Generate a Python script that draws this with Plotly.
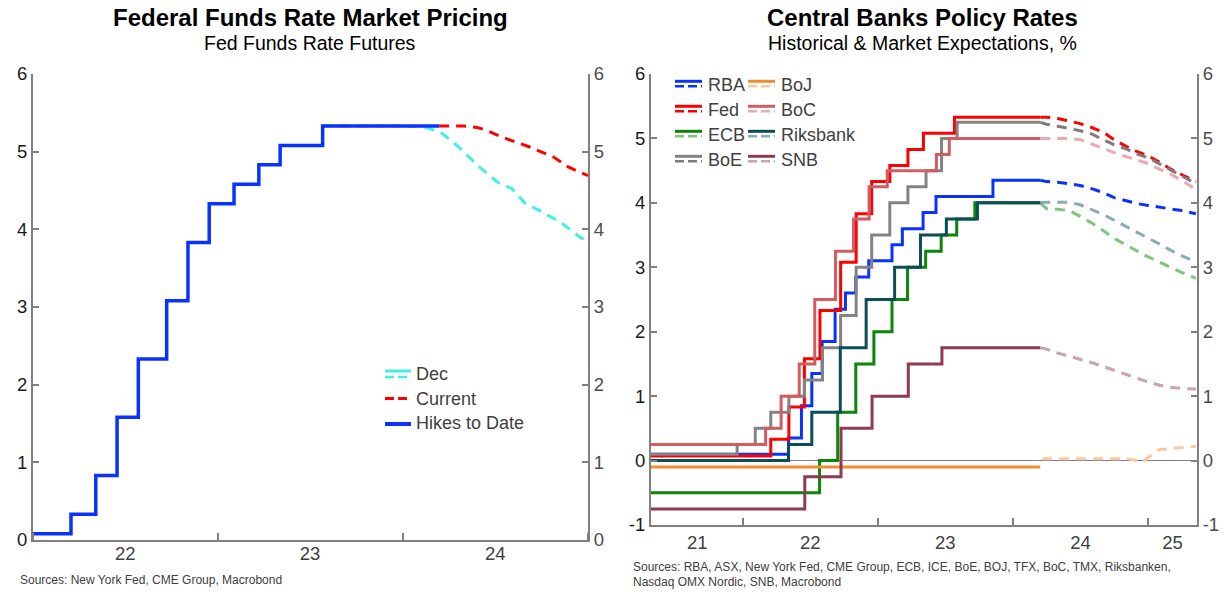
import plotly.graph_objects as go

W, H = 1226, 592
FONT = "Arial, Liberation Sans, sans-serif"

# ---------------- Left chart data ----------------
hikes_dates = ["2022-01-01", "2022-03-17", "2022-05-05", "2022-06-16", "2022-07-28", "2022-09-22",
               "2022-11-03", "2022-12-15", "2023-02-02", "2023-03-23", "2023-05-04", "2023-07-27",
               "2024-03-13"]
hikes_values = [0.08, 0.33, 0.83, 1.58, 2.33, 3.08, 3.83, 4.33, 4.58, 4.83, 5.08, 5.33, 5.33]

dec_dates = ["2023-07-27", "2024-01-01", "2024-02-06", "2024-02-22", "2024-03-20", "2024-04-19",
             "2024-06-01", "2024-07-10", "2024-08-03", "2024-08-29", "2024-10-01", "2024-11-10",
             "2024-12-16", "2025-01-01"]
dec_values = [5.33, 5.33, 5.32, 5.30, 5.23, 5.07, 4.80, 4.59, 4.53, 4.34, 4.23, 4.08, 3.90, 3.84]

current_dates = ["2024-03-13", "2024-05-01", "2024-05-27", "2024-06-13", "2024-07-18", "2024-09-08",
                 "2024-10-25", "2024-11-24", "2025-01-01"]
current_values = [5.33, 5.33, 5.31, 5.28, 5.18, 5.06, 4.93, 4.80, 4.69]

left_tick_pos = ["2022-07-02", "2023-07-02", "2024-07-02"]
left_tick_text = ["22", "23", "24"]
left_year_marks = ["2022-01-01", "2023-01-01", "2024-01-01", "2025-01-01"]
left_y_vals = [0, 1, 2, 3, 4, 5, 6]
left_y_text = ["0", "1", "2", "3", "4", "5", "6"]

# ---------------- Right chart data ----------------
rba_dates = ["2021-04-01", "2022-05-04", "2022-06-08", "2022-07-06", "2022-08-03", "2022-09-07",
             "2022-10-05", "2022-11-02", "2022-12-07", "2023-02-08", "2023-03-08", "2023-05-03",
             "2023-06-07", "2023-11-08", "2024-03-15"]
rba_values = [0.10, 0.35, 0.85, 1.35, 1.85, 2.35, 2.60, 2.85, 3.10, 3.35, 3.60, 3.85, 4.10, 4.35, 4.35]

fed_dates = ["2021-04-01", "2022-03-17", "2022-05-05", "2022-06-16", "2022-07-28", "2022-09-22",
             "2022-11-03", "2022-12-15", "2023-02-02", "2023-03-23", "2023-05-04", "2023-07-27",
             "2024-03-15"]
fed_values = [0.07, 0.33, 0.83, 1.58, 2.33, 3.08, 3.83, 4.33, 4.58, 4.83, 5.08, 5.33, 5.33]

ecb_dates = ["2021-04-01", "2022-07-27", "2022-09-14", "2022-11-02", "2022-12-21", "2023-02-08",
             "2023-03-22", "2023-05-10", "2023-06-21", "2023-08-02", "2023-09-20", "2024-03-15"]
ecb_values = [-0.50, 0.00, 0.75, 1.50, 2.00, 2.50, 3.00, 3.25, 3.50, 3.75, 4.00, 4.00]

boe_dates = ["2021-04-01", "2021-12-16", "2022-02-03", "2022-03-17", "2022-05-05", "2022-06-16",
             "2022-08-04", "2022-09-22", "2022-11-03", "2022-12-15", "2023-02-02", "2023-03-23",
             "2023-05-11", "2023-06-22", "2023-08-03", "2024-03-15"]
boe_values = [0.10, 0.25, 0.50, 0.75, 1.00, 1.25, 1.75, 2.25, 3.00, 3.50, 4.00, 4.25, 4.50, 5.00,
              5.25, 5.25]

boj_dates = ["2021-04-01", "2024-03-15"]
boj_values = [-0.10, -0.10]

boc_dates = ["2021-04-01", "2022-03-03", "2022-04-14", "2022-06-02", "2022-07-14", "2022-09-08",
             "2022-10-27", "2022-12-08", "2023-01-26", "2023-06-08", "2023-07-13", "2024-03-15"]
boc_values = [0.25, 0.50, 1.00, 1.50, 2.50, 3.25, 3.75, 4.25, 4.50, 4.75, 5.00, 5.00]

riks_dates = ["2021-04-01", "2022-05-04", "2022-07-06", "2022-09-21", "2022-11-30", "2023-02-15",
              "2023-04-26", "2023-07-05", "2023-09-27", "2024-03-15"]
riks_values = [0.00, 0.25, 0.75, 1.75, 2.50, 3.00, 3.50, 3.75, 4.00, 4.00]

snb_dates = ["2021-04-01", "2022-06-17", "2022-09-23", "2022-12-16", "2023-03-24", "2023-06-23",
             "2024-03-15"]
snb_values = [-0.75, -0.25, 0.50, 1.00, 1.50, 1.75, 1.75]

# market expectations (dashed)
fc_dates = ["2024-03-15", "2024-04-01", "2024-05-01", "2024-06-01", "2024-07-01", "2024-08-01",
            "2024-09-01", "2024-10-01", "2024-11-01", "2024-12-01", "2025-01-01", "2025-02-01",
            "2025-03-01", "2025-04-01", "2025-05-10"]
rba_fc = [4.35, 4.33, 4.32, 4.29, 4.27, 4.22, 4.16, 4.08, 4.03, 3.99, 3.96, 3.93, 3.91, 3.88, 3.83]
fed_fc = [5.33, 5.33, 5.31, 5.27, 5.23, 5.17, 5.10, 4.98, 4.88, 4.80, 4.73, 4.63, 4.53, 4.44, 4.33]
ecb_fc = [4.00, 3.91, 3.90, 3.88, 3.79, 3.69, 3.57, 3.45, 3.35, 3.25, 3.16, 3.08, 3.00, 2.92, 2.83]
boe_fc = [5.25, 5.22, 5.19, 5.16, 5.12, 5.07, 4.98, 4.90, 4.84, 4.76, 4.70, 4.60, 4.52, 4.42, 4.30]
boc_fc = [5.00, 5.00, 5.00, 5.00, 4.98, 4.91, 4.84, 4.78, 4.72, 4.66, 4.61, 4.52, 4.45, 4.35, 4.21]
riks_fc = [4.00, 4.01, 4.01, 4.01, 3.97, 3.90, 3.82, 3.73, 3.64, 3.55, 3.46, 3.36, 3.27, 3.18, 3.08]
snb_fc = [1.75, 1.73, 1.67, 1.62, 1.58, 1.52, 1.46, 1.40, 1.35, 1.28, 1.22, 1.17, 1.14, 1.12, 1.11]
boj_fc_dates = ["2024-03-20", "2024-11-05", "2024-12-16", "2025-01-30", "2025-05-10"]
boj_fc = [0.03, 0.03, -0.02, 0.17, 0.22]

right_tick_pos = ["2021-08-30", "2022-07-02", "2023-07-02", "2024-07-02", "2025-03-08"]
right_tick_text = ["21", "22", "23", "24", "25"]
right_year_marks = ["2022-01-01", "2023-01-01", "2024-01-01", "2025-01-01"]
right_y_vals = [-1, 0, 1, 2, 3, 4, 5, 6]
right_y_text = ["-1", "0", "1", "2", "3", "4", "5", "6"]

banks = [
    # name, hist dates, hist values, fc dates, fc values, solid colour, dashed colour
    ("RBA", rba_dates, rba_values, fc_dates, rba_fc, "#0A32FF", "#0A32FF"),
    ("Fed", fed_dates, fed_values, fc_dates, fed_fc, "#FF0000", "#FF0000"),
    ("ECB", ecb_dates, ecb_values, fc_dates, ecb_fc, "#0B860B", "#80C480"),
    ("BoE", boe_dates, boe_values, fc_dates, boe_fc, "#838383", "#7C7C7C"),
    ("BoJ", boj_dates, boj_values, boj_fc_dates, boj_fc, "#F28C2E", "#FBC99B"),
    ("BoC", boc_dates, boc_values, fc_dates, boc_fc, "#D25C61", "#EAAAAE"),
    ("Riksbank", riks_dates, riks_values, fc_dates, riks_fc, "#0B4E55", "#86AEB3"),
    ("SNB", snb_dates, snb_values, fc_dates, snb_fc, "#8E3B50", "#CBA2AD"),
]

DEC_C, CUR_C, HIKE_C = "#44EEE6", "#FF0000", "#0A32FF"
AX_C = "#808080"

fig = go.Figure()

# ---- left chart traces ----
fig.add_trace(go.Scatter(x=dec_dates, y=dec_values, mode="lines", name="Dec",
                         line=dict(color=DEC_C, width=3, dash="10px,7px"),
                         xaxis="x", yaxis="y", showlegend=False))
fig.add_trace(go.Scatter(x=current_dates, y=current_values, mode="lines", name="Current",
                         line=dict(color=CUR_C, width=3, dash="10px,7px"),
                         xaxis="x", yaxis="y", showlegend=False))
fig.add_trace(go.Scatter(x=hikes_dates, y=hikes_values, mode="lines", name="Hikes to Date",
                         line=dict(color=HIKE_C, width=3.5, shape="hv"),
                         xaxis="x", yaxis="y", showlegend=False))

# ---- right chart traces ----
for name, hd, hv, fd, fv, c1, c2 in banks:
    fig.add_trace(go.Scatter(x=fd, y=fv, mode="lines", name=name + " exp.",
                             line=dict(color=c2, width=3, dash="10px,7px"),
                             xaxis="x2", yaxis="y2", showlegend=False))
for name, hd, hv, fd, fv, c1, c2 in banks:
    fig.add_trace(go.Scatter(x=hd, y=hv, mode="lines", name=name,
                             line=dict(color=c1, width=3, shape="hv"),
                             xaxis="x2", yaxis="y2", showlegend=False))

def px(x):
    return x / W

def py(y):
    return 1 - y / H

shapes = []
annotations = []

def legend_line(x0, x1, y, color, width, dash=None):
    d = dict(type="line", xref="paper", yref="paper", x0=px(x0), x1=px(x1), y0=py(y), y1=py(y),
             line=dict(color=color, width=width))
    if dash:
        d["line"]["dash"] = dash
    shapes.append(d)

def legend_text(x, y, text, size=18):
    annotations.append(dict(text=text, xref="paper", yref="paper", x=px(x), y=py(y),
                            xanchor="left", yanchor="middle", showarrow=False,
                            font=dict(family=FONT, size=size, color="#404040")))

# left legend
legend_line(385, 411, 371, DEC_C, 3)
legend_line(385, 411, 377, DEC_C, 2.5, "9px,4px")
legend_text(414, 374, "Dec")
legend_line(385, 411, 398.5, CUR_C, 3, "9px,4px")
legend_text(414, 398.5, "Current")
legend_line(385, 411, 424, HIKE_C, 4)
legend_text(414, 423, "Hikes to Date")

# right legend (2 columns x 4 rows)
rows_y = [84, 109, 134, 159]
cols = [(675, 702, 706), (748, 775, 779)]
for i, (name, hd, hv, fd, fv, c1, c2) in enumerate(banks):
    col, row = divmod(i, 4)
    x0, x1, xt = cols[col]
    yc = rows_y[row]
    legend_line(x0, x1, yc - 2.7, c1, 3)
    legend_line(x0, x1, yc + 2.3, c2, 2.5, "9px,4px")
    legend_text(xt, yc + 0.5, name)

# titles
def title(x, y, text, size, bold=False):
    annotations.append(dict(text=("<b>%s</b>" % text) if bold else text, xref="paper", yref="paper",
                            x=px(x), y=py(y), xanchor="center", yanchor="middle", showarrow=False,
                            font=dict(family=FONT, size=size, color="#000000")))

title(310, 17, "Federal Funds Rate Market Pricing", 24, True)
title(310, 43, "Fed Funds Rate Futures", 19.5)
title(922, 17, "Central Banks Policy Rates", 24, True)
title(922, 43, "Historical &amp; Market Expectations, %", 19.5)

def source(x, y, text):
    annotations.append(dict(text=text, xref="paper", yref="paper", x=px(x), y=py(y),
                            xanchor="left", yanchor="middle", showarrow=False,
                            font=dict(family=FONT, size=12, color="#404040")))

source(18, 580, "Sources: New York Fed, CME Group, Macrobond")
source(631, 567, "Sources: RBA, ASX, New York Fed, CME Group, ECB, ICE, BoE, BOJ, TFX, BoC, TMX, Riksbanken,")
source(631, 582, "Nasdaq OMX Nordic, SNB, Macrobond")

tickfont = dict(family=FONT, size=18.5, color="#1A1A1A")
tickfont_r = dict(family=FONT, size=18.5, color="#4D4D4D")

def xaxis_cfg(domain, anchor, rng, tpos, ttext, marks, standoff=0):
    return dict(domain=domain, anchor=anchor, type="date", range=rng,
                tickmode="array", tickvals=tpos, ticktext=ttext, ticks="", ticklen=0,
                ticklabelstandoff=standoff,
                tickfont=dict(family=FONT, size=18.5, color="#404040"),
                showline=True, linecolor=AX_C, linewidth=2, showgrid=False, zeroline=False,
                minor=dict(tickmode="array", tickvals=marks, ticks="inside", ticklen=7,
                           tickcolor=AX_C, tickwidth=1.5, showgrid=False),
                automargin=False, fixedrange=True)

def yaxis_cfg(domain, anchor, rng, vals, texts, side="left", overlaying=None):
    d = dict(domain=domain, anchor=anchor, range=rng, tickmode="array", tickvals=vals,
             ticktext=texts, side=side,
             ticks="inside", ticklen=6, tickcolor=AX_C, tickwidth=1.5,
             tickfont=tickfont if side == "left" else tickfont_r,
             showline=True, linecolor=AX_C, linewidth=2, showgrid=False, zeroline=False,
             automargin=False, fixedrange=True)
    if overlaying:
        d["overlaying"] = overlaying
    return d

left_xdom = [px(33), px(588)]
right_xdom = [px(651), px(1197)]
left_ydom = [py(540), py(74)]
right_ydom = [py(525), py(74)]

y2 = yaxis_cfg(right_ydom, "x2", [-1, 6], right_y_vals, right_y_text)
y2.update(zeroline=True, zerolinecolor="#808080", zerolinewidth=1)

fig.update_layout(
    width=W, height=H, autosize=False,
    margin=dict(l=0, r=0, t=0, b=0, pad=0, autoexpand=False),
    paper_bgcolor="white", plot_bgcolor="white",
    font=dict(family=FONT),
    showlegend=False,
    xaxis=xaxis_cfg(left_xdom, "y", ["2022-01-01", "2025-01-01"], left_tick_pos, left_tick_text,
                    left_year_marks, standoff=-4),
    xaxis2=xaxis_cfg(right_xdom, "y2", ["2021-04-27", "2025-05-13"], right_tick_pos,
                     right_tick_text, right_year_marks),
    yaxis=yaxis_cfg(left_ydom, "x", [0, 6], left_y_vals, left_y_text),
    yaxis3=yaxis_cfg(left_ydom, "x", [0, 6], left_y_vals, left_y_text, side="right",
                     overlaying="y"),
    yaxis2=y2,
    yaxis4=yaxis_cfg(right_ydom, "x2", [-1, 6], right_y_vals, right_y_text, side="right",
                     overlaying="y2"),
    shapes=shapes,
    annotations=annotations,
)

# dummy traces so the mirrored axes render
fig.add_trace(go.Scatter(x=[None], y=[None], xaxis="x", yaxis="y3", showlegend=False,
                         hoverinfo="skip"))
fig.add_trace(go.Scatter(x=[None], y=[None], xaxis="x2", yaxis="y4", showlegend=False,
                         hoverinfo="skip"))

fig.write_html("out.html", config={"displayModeBar": False},
               post_script="document.body.style.margin='0';document.body.style.padding='0';")
